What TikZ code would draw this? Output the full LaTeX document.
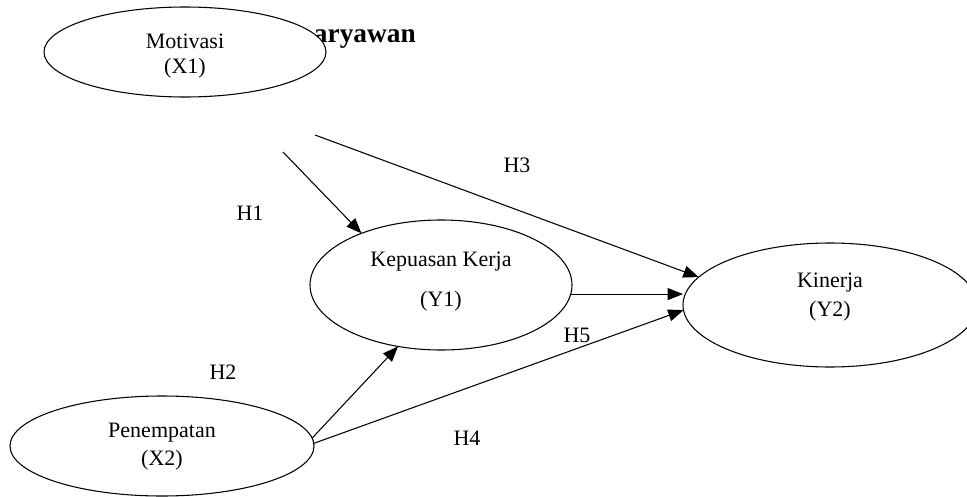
\documentclass[tikz,border=0pt]{standalone}
\usepackage{fontspec}
\setmainfont{Liberation Serif}
\usetikzlibrary{shapes.geometric,arrows.meta}

\newcommand{\varfont}{\fontsize{16.5}{19}\selectfont}

\begin{document}
\begin{tikzpicture}[x=0.75pt,y=-0.75pt,
  var/.style={draw,ellipse,fill=white,inner sep=0pt,outer sep=0pt,line width=0.8pt},
  txt/.style={align=center,font=\varfont},
  hyp/.style={font=\varfont},
  link/.style={line width=0.8pt,-{Triangle[length=11.5pt,width=9pt]}}]

\useasboundingbox (0,0) rectangle (967,496);
\clip (0,0) rectangle (967,496);

% title text, partly behind the first ellipse
  \node[font=\bfseries\fontsize{20.5}{24}\selectfont,anchor=base east,inner sep=0pt] (ttl) at (416,42) {aryawan};

% Draw the variables
  \node[var,minimum width=282*0.75pt,minimum height=90*0.75pt] (mot) at (185,52) {};
  \node[var,minimum width=262*0.75pt,minimum height=130*0.75pt] (kep) at (441,285) {};
  \node[var,minimum width=294*0.75pt,minimum height=124*0.75pt] (kin) at (830,305) {};
  \node[var,minimum width=304*0.75pt,minimum height=100*0.75pt] (pen) at (162,446) {};

% their texts
  \node[txt] (motxt) at (185,56) {Motivasi\\(X1)};
  \node[txt] (keptxt) at (441,282) {Kepuasan Kerja\\[11pt](Y1)};
  \node[txt] (kintxt) at (830,297) {Kinerja\\[3pt](Y2)};
  \node[txt] (pentxt) at (162,447) {Penempatan\\[2pt](X2)};

% free ends of the upper arrows
  \coordinate (h1s) at (283,152);
  \coordinate (h3s) at (315,135);

% Draw the arrows
  \draw[link] (h1s) -- (kep.147);
  \draw[link] (h3s) -- (kin.168);
  \draw[link] (kep.-4) -- (kin.west |- kep.-4);
  \draw[link] (pen.3.5) -- (kep.235);
  \draw[link] (pen.1) -- (kin.182);

% hypothesis labels
  \node[hyp] (h1) at (250,213) {H1};
  \node[hyp] (h2) at (223,372) {H2};
  \node[hyp] (h3) at (517,165) {H3};
  \node[hyp] (h4) at (467,438) {H4};
  \node[hyp] (h5) at (577,335) {H5};

\end{tikzpicture}
\end{document}
